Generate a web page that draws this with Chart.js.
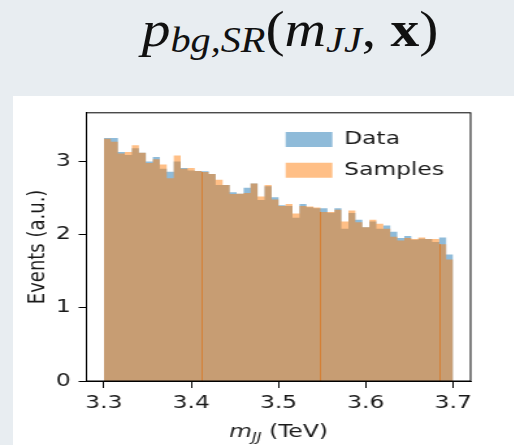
<!DOCTYPE html>
<html>
<head>
<meta charset="utf-8">
<script src="https://cdn.jsdelivr.net/npm/chart.js@4"></script>
<style>
  html, body { margin: 0; padding: 0; }
  body { width: 514px; height: 445px; background: #e8edf1; position: relative; overflow: hidden; }
  #title { position: absolute; left: 0; top: 4px; width: 580px; text-align: center;
           font-family: "Liberation Serif", serif; font-size: 50px; line-height: 50px; color: #111; white-space: nowrap; }
  #title .inner { display: inline-block; transform: scaleX(1.15); }
  #title sub { font-size: 0.7em; vertical-align: -0.16em; line-height: 0; }
  #panel { position: absolute; left: 13px; top: 96px; width: 501px; height: 349px; background: #fff; overflow: hidden; }
  #wrap { width: 385px; height: 349px; transform: scaleX(1.3); transform-origin: 0 0; }
</style>
</head>
<body>
<div id="title"><span class="inner"><i>p</i><sub><i>bg,SR</i></sub>(<i>m</i><sub><i>JJ</i></sub>, <b>x</b>)</span></div>
<div id="panel"><div id="wrap"><canvas id="chart" width="385" height="349"></canvas></div></div>
<script>
// histogram bin edges (TeV), 50 bins
const binEdges = [3.300, 3.308, 3.316, 3.324, 3.332, 3.340, 3.348, 3.356, 3.364, 3.372,
                  3.380, 3.388, 3.396, 3.404, 3.412, 3.420, 3.428, 3.436, 3.444, 3.452,
                  3.460, 3.468, 3.476, 3.484, 3.492, 3.500, 3.508, 3.516, 3.524, 3.532,
                  3.540, 3.548, 3.556, 3.564, 3.572, 3.580, 3.588, 3.596, 3.604, 3.612,
                  3.620, 3.628, 3.636, 3.644, 3.652, 3.660, 3.668, 3.676, 3.684, 3.692, 3.700];

const dataHeights = [3.32, 3.32, 3.13, 3.09, 3.18, 3.12, 3.00, 3.06, 2.90, 2.86,
                     3.00, 2.91, 2.875, 2.87, 2.865, 2.83, 2.68, 2.68, 2.58, 2.56,
                     2.64, 2.70, 2.475, 2.66, 2.51, 2.40, 2.39, 2.23, 2.42, 2.375,
                     2.36, 2.36, 2.30, 2.36, 2.08, 2.295, 2.205, 2.10, 2.18, 2.08,
                     2.125, 2.04, 1.955, 1.98, 1.93, 1.945, 1.94, 1.90, 1.96, 1.73];

const sampleHeights = [3.31, 3.27, 3.11, 3.13, 3.22, 3.12, 2.98, 3.03, 2.96, 2.77,
                       3.08, 2.90, 2.91, 2.87, 2.855, 2.83, 2.75, 2.68, 2.555, 2.56,
                       2.57, 2.70, 2.52, 2.68, 2.48, 2.39, 2.42, 2.29, 2.39, 2.385,
                       2.37, 2.31, 2.31, 2.34, 2.18, 2.33, 2.17, 2.10, 2.205, 2.15,
                       2.08, 1.97, 1.92, 1.955, 1.94, 1.96, 1.94, 1.94, 1.87, 1.66];

// bin edges where the original picture shows a darker seam between two bars
const seamEdges = [14, 31, 48];

const xTicks = [3.3, 3.4, 3.5, 3.6, 3.7];
const yTicks = [0, 1, 2, 3];

const textColor = '#1a1a1a';
const font = { family: 'DejaVu Sans', size: 18 };

// one point per bin edge, last edge repeats the last bin height
function stepPoints(heights) {
    return binEdges.map((x, i) => ({ x: x, y: heights[Math.min(i, heights.length - 1)] }));
}

// put the legend in the upper right corner, inside the axes
const legendPlacer = {
    id: 'legendPlacer',
    afterLayout(chart) {
        const lg = chart.legend, ca = chart.chartArea;
        lg.left = ca.right - 155;
        lg.top = ca.top + 5;
        lg.right = lg.left + lg.width;
        lg.bottom = lg.top + lg.height;
    }
};

// thin darker lines between some bars
const seams = {
    id: 'seams',
    afterDatasetsDraw(chart) {
        const ctx = chart.ctx, xs = chart.scales.x, ys = chart.scales.y;
        ctx.save();
        ctx.strokeStyle = 'rgba(214, 125, 48, 0.9)';
        ctx.lineWidth = 1;
        seamEdges.forEach(k => {
            const x = Math.round(xs.getPixelForValue(binEdges[k])) + 0.5;
            const top = Math.min(dataHeights[k - 1], dataHeights[k], sampleHeights[k - 1], sampleHeights[k]);
            ctx.beginPath();
            ctx.moveTo(x, ys.getPixelForValue(0));
            ctx.lineTo(x, ys.getPixelForValue(top));
            ctx.stroke();
        });
        ctx.restore();
    }
};

// full box around the axes, like matplotlib spines
const frame = {
    id: 'frame',
    afterDraw(chart) {
        const ctx = chart.ctx, ca = chart.chartArea;
        ctx.save();
        ctx.strokeStyle = '#000';
        ctx.lineWidth = 1;
        ctx.strokeRect(ca.left, ca.top, ca.right - ca.left, ca.bottom - ca.top);
        ctx.restore();
    }
};

// x axis label with a subscript: m_JJ (TeV)
const xLabel = {
    id: 'xLabel',
    afterDraw(chart) {
        const ctx = chart.ctx, ca = chart.chartArea;
        const parts = [
            { t: 'm', f: 'italic 18px "DejaVu Sans"', dy: 0 },
            { t: 'JJ', f: 'italic 12.6px "DejaVu Sans"', dy: 4 },
            { t: ' (TeV)', f: '18px "DejaVu Sans"', dy: 0 }
        ];
        ctx.save();
        ctx.fillStyle = textColor;
        ctx.textBaseline = 'alphabetic';
        ctx.textAlign = 'left';
        let total = 0;
        parts.forEach(p => { ctx.font = p.f; p.w = ctx.measureText(p.t).width; total += p.w; });
        let x = (ca.left + ca.right) / 2 - total / 2;
        const y = chart.height - 8;
        parts.forEach(p => { ctx.font = p.f; ctx.fillText(p.t, x, y + p.dy); x += p.w; });
        ctx.restore();
    }
};

new Chart(document.getElementById('chart'), {
    type: 'line',
    data: {
        datasets: [
            {
                label: 'Data',
                data: stepPoints(dataHeights),
                stepped: 'before',
                fill: 'origin',
                backgroundColor: 'rgba(31, 119, 180, 0.5)',
                borderColor: 'rgba(0, 0, 0, 0)',
                borderWidth: 0,
                pointRadius: 0,
                order: 1
            },
            {
                label: 'Samples',
                data: stepPoints(sampleHeights),
                stepped: 'before',
                fill: 'origin',
                backgroundColor: 'rgba(255, 127, 14, 0.5)',
                borderColor: 'rgba(0, 0, 0, 0)',
                borderWidth: 0,
                pointRadius: 0,
                order: 0
            }
        ]
    },
    options: {
        responsive: false,
        animation: false,
        devicePixelRatio: 1,
        layout: { padding: { top: 13, right: 33, left: 0, bottom: 0 } },
        plugins: {
            legend: {
                position: 'chartArea',
                align: 'start',
                labels: {
                    boxWidth: 36,
                    boxHeight: 15,
                    padding: 12.7,
                    color: textColor,
                    font: font,
                    sort: (a, b) => a.datasetIndex - b.datasetIndex
                }
            },
            tooltip: { enabled: false }
        },
        scales: {
            x: {
                type: 'linear',
                min: 3.28,
                max: 3.72,
                afterBuildTicks: s => { s.ticks = xTicks.map(v => ({ value: v })); },
                afterFit: s => { s.height = 64; },
                grid: { drawOnChartArea: false, color: '#000', tickLength: 7 },
                border: { color: '#000' },
                ticks: { padding: 5, color: textColor, font: font, maxRotation: 0, callback: v => v.toFixed(1) }
            },
            y: {
                min: 0,
                max: 3.665,
                afterBuildTicks: s => { s.ticks = yTicks.map(v => ({ value: v })); },
                afterFit: s => { s.width = 56.5; },
                grid: { drawOnChartArea: false, color: '#000', tickLength: 6 },
                border: { color: '#000' },
                ticks: { padding: 6, color: textColor, font: font, callback: v => String(v) },
                title: { display: true, text: 'Events (a.u.)', color: textColor, font: font, padding: { top: 9, bottom: 0 } }
            }
        }
    },
    plugins: [legendPlacer, seams, frame, xLabel]
});
</script>
</body>
</html>
